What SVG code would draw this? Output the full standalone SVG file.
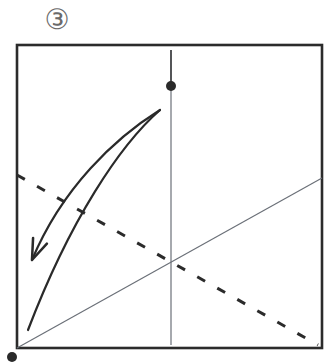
<svg xmlns="http://www.w3.org/2000/svg" width="324" height="362" viewBox="0 0 324 362">
<style>
.frame{fill:none;stroke:#2b2b2b;stroke-width:2.6}
.thin{fill:none;stroke:#6b7078;stroke-width:1.2}
.dash{fill:none;stroke:#2b2b2b;stroke-width:3;stroke-dasharray:9 14}
.curve{fill:none;stroke:#2a2a2a;stroke-width:2.2;stroke-linecap:round}
.dot{fill:#2a2a2a}
.label{font-family:"DejaVu Sans",sans-serif;font-size:28px;fill:#6a6a6a}
</style>
<defs>
<marker id="vhead" markerUnits="userSpaceOnUse" markerWidth="30" markerHeight="30" refX="0" refY="0" viewBox="-22 -12 26 24" orient="auto" overflow="visible">
<path d="M-18,-6.5 L0,0 L-18,6.5" fill="none" stroke="#2a2a2a" stroke-width="2.2" stroke-linecap="round" stroke-linejoin="round"/>
</marker>
</defs>
<rect fill="#ffffff" x="0" y="0" width="324" height="362"/>
<g id="label-step"><text class="label" x="57" y="29" text-anchor="middle">③</text></g>
<g id="square"><rect class="frame" x="17" y="45" width="305" height="303"/></g>
<g id="connectors">
<line class="thin" x1="171" y1="50" x2="171" y2="345"/>
<line x1="171" y1="50" x2="171" y2="86" stroke="#333" stroke-width="1.4"/>
<line class="thin" x1="17" y1="348" x2="322" y2="178"/>
<line class="dash" x1="17" y1="175" x2="318" y2="345"/>
<path class="curve" d="M160,110 C115,138 62,188 32,260" marker-end="url(#vhead)"/>
<path class="curve" d="M160,110 C120,145 70,220 28,330"/>
</g>
<g id="dot-top"><circle class="dot" cx="171" cy="86" r="5"/></g>
<g id="dot-corner"><circle class="dot" cx="12" cy="357" r="5"/></g>
</svg>
